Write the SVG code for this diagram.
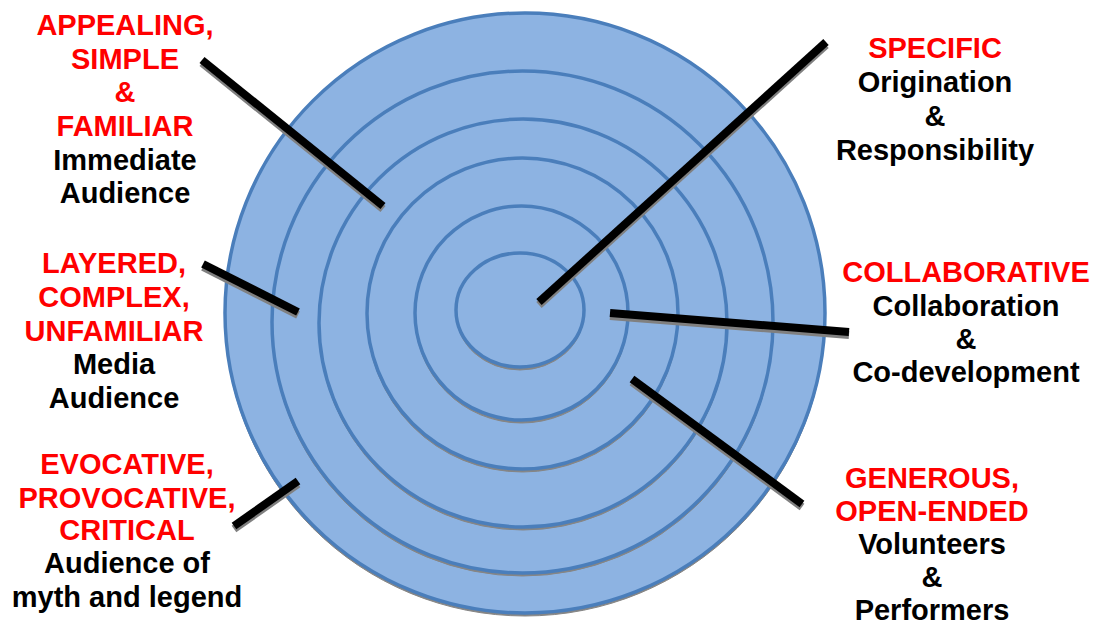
<svg xmlns="http://www.w3.org/2000/svg" width="1104" height="625" viewBox="0 0 1104 625">
<style>
.sh{fill:#858585;stroke:#858585;stroke-width:1}
.rg{fill:#8DB3E2;stroke:#4A7EBB;stroke-width:3.5}
.ln{stroke:#000;stroke-width:8;stroke-linecap:butt}
.lns{stroke:#808080;stroke-width:8;stroke-linecap:butt}
text{font-family:"Liberation Sans",Arial,sans-serif;font-weight:bold;font-size:29px;text-anchor:middle}
.r{fill:#FF0000}
.k{fill:#000}
</style>
<rect width="1104" height="625" fill="#fff"/>
<g id="rings">
<g id="ring6"><ellipse class="sh" cx="525" cy="316" rx="300" ry="300"/><ellipse class="rg" cx="525" cy="313" rx="300" ry="300"/></g>
<g id="ring5"><ellipse class="sh" cx="522.5" cy="325" rx="250.5" ry="251"/><ellipse class="rg" cx="522.5" cy="322" rx="250.5" ry="251"/></g>
<g id="ring4"><ellipse class="sh" cx="523" cy="326" rx="204" ry="204"/><ellipse class="rg" cx="523" cy="323" rx="204" ry="204"/></g>
<g id="ring3"><ellipse class="sh" cx="522.5" cy="316.5" rx="155.5" ry="155.5"/><ellipse class="rg" cx="522.5" cy="313.5" rx="155.5" ry="155.5"/></g>
<g id="ring2"><ellipse class="sh" cx="521.5" cy="316" rx="106.5" ry="107"/><ellipse class="rg" cx="521.5" cy="313" rx="106.5" ry="107"/></g>
<g id="ring1"><ellipse class="sh" cx="520" cy="313" rx="64" ry="57"/><ellipse class="rg" cx="520" cy="310" rx="64" ry="57"/></g>
</g>
<g id="connectors">
<line class="lns" x1="202" y1="63" x2="383" y2="209"/>
<line class="ln" x1="202" y1="60" x2="383" y2="206"/>
<line class="lns" x1="539" y1="305" x2="826" y2="45"/>
<line class="ln" x1="539" y1="302" x2="826" y2="42"/>
<line class="lns" x1="610" y1="316" x2="849" y2="335"/>
<line class="ln" x1="610" y1="313" x2="849" y2="332"/>
<line class="lns" x1="632" y1="382" x2="802" y2="507"/>
<line class="ln" x1="632" y1="379" x2="802" y2="504"/>
<line class="lns" x1="203" y1="267" x2="298" y2="315"/>
<line class="ln" x1="203" y1="264" x2="298" y2="312"/>
<line class="lns" x1="234" y1="529" x2="298" y2="484"/>
<line class="ln" x1="234" y1="526" x2="298" y2="481"/>
</g>
<g id="label-appealing">
<text class="r" x="125" y="35">APPEALING,</text>
<text class="r" x="125" y="68.5">SIMPLE</text>
<text class="r" x="125" y="102">&amp;</text>
<text class="r" x="125" y="136">FAMILIAR</text>
<text class="k" x="125" y="170">Immediate</text>
<text class="k" x="125" y="203">Audience</text>
</g>
<g id="label-layered">
<text class="r" x="114" y="273">LAYERED,</text>
<text class="r" x="114" y="307">COMPLEX,</text>
<text class="r" x="114" y="341">UNFAMILIAR</text>
<text class="k" x="114" y="374">Media</text>
<text class="k" x="114" y="408">Audience</text>
</g>
<g id="label-evocative">
<text class="r" x="127" y="474">EVOCATIVE,</text>
<text class="r" x="127" y="508">PROVOCATIVE,</text>
<text class="r" x="127" y="540">CRITICAL</text>
<text class="k" x="127" y="573">Audience of</text>
<text class="k" x="127" y="607">myth and legend</text>
</g>
<g id="label-specific">
<text class="r" x="935" y="58">SPECIFIC</text>
<text class="k" x="935" y="92">Origination</text>
<text class="k" x="935" y="126">&amp;</text>
<text class="k" x="935" y="160">Responsibility</text>
</g>
<g id="label-collaborative">
<text class="r" x="966" y="282">COLLABORATIVE</text>
<text class="k" x="966" y="316">Collaboration</text>
<text class="k" x="966" y="349">&amp;</text>
<text class="k" x="966" y="382">Co-development</text>
</g>
<g id="label-generous">
<text class="r" x="932" y="488">GENEROUS,</text>
<text class="r" x="932" y="521">OPEN-ENDED</text>
<text class="k" x="932" y="554">Volunteers</text>
<text class="k" x="932" y="587">&amp;</text>
<text class="k" x="932" y="620">Performers</text>
</g>
</svg>
